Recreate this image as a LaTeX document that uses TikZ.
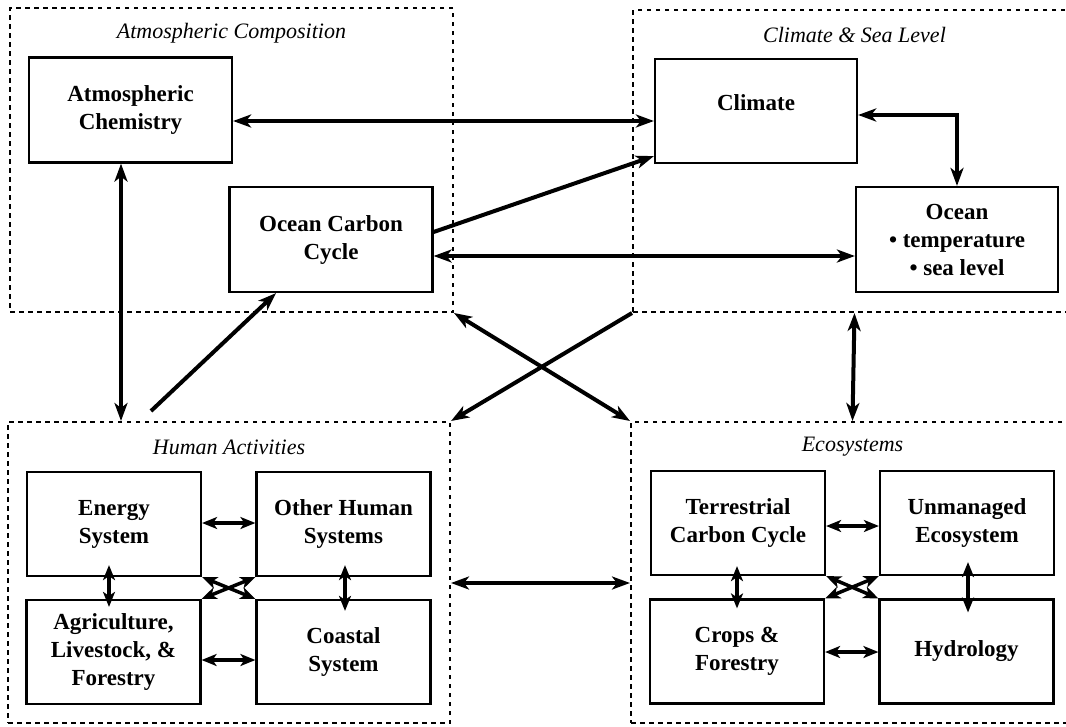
\documentclass[tikz,border=0pt]{standalone}
\usepackage{fontspec}
\setmainfont{Liberation Serif}
\usetikzlibrary{arrows.meta,calc}
\begin{document}
\begin{tikzpicture}[x=1pt,y=-1pt,
  region/.style={draw, line width=2pt, dash pattern=on 4.5pt off 4.5pt, inner sep=0pt},
  box/.style={draw, line width=2.2pt, align=center, inner sep=0pt, font=\fontsize{23}{28}\selectfont\bfseries},
  bigbox/.style={box, minimum width=203pt, minimum height=105pt},
  smallbox/.style={box, minimum width=174pt, minimum height=104pt},
  title/.style={font=\fontsize{22}{26}\selectfont\itshape, inner sep=0pt},
  big/.style={line width=4pt, {Stealth[length=18pt,width=13pt,inset=5pt]}-{Stealth[length=18pt,width=13pt,inset=5pt]}},
  one/.style={line width=4pt, -{Stealth[length=18pt,width=13pt,inset=5pt]}},
  small/.style={line width=3.5pt, {Stealth[length=15pt,width=12pt,inset=4pt]}-{Stealth[length=15pt,width=12pt,inset=4pt]}}
]
\clip (0,0) rectangle (1066,726);
\fill[white] (0,0) rectangle (1066,726);

% regions
\node[region, minimum width=443pt, minimum height=304pt] (atm) at (231.5,160) {};
\node[region, minimum width=443pt, minimum height=302pt] (climreg) at (854.5,161) {};
\node[region, minimum width=442pt, minimum height=301pt] (hum) at (229,572.5) {};
\node[region, minimum width=443pt, minimum height=301pt] (eco) at (852.5,572.5) {};

\node[title] (t1) at (231.5,33) {Atmospheric Composition};
\node[title] (t2) at (854.5,35) {Climate \& Sea Level};
\node[title] (t3) at (229,447) {Human Activities};
\node[title] (t4) at (852.5,447) {Ecosystems};

% top boxes
\node[bigbox] (chem) at (130.5,110) {Atmospheric\\Chemistry};
\node[bigbox] (occ) at (331,239.5) {Ocean Carbon\\Cycle};
\node[bigbox, minimum width=202pt, minimum height=104pt, text depth=17pt] (clim) at (756,111) {Climate};
\node[bigbox, minimum width=202pt] (ocean) at (957,239.5) {Ocean\\• temperature\\• sea level};

% human boxes
\node[smallbox] (energy) at (114,524) {Energy\\System};
\node[smallbox] (other) at (343.5,524) {Other Human\\Systems};
\node[smallbox] (agri) at (113.5,652) {Agriculture,\\Livestock, \&\\Forestry};
\node[smallbox] (coast) at (343.5,652) {Coastal\\System};

% eco boxes
\node[smallbox] (terr) at (738,523) {Terrestrial\\Carbon Cycle};
\node[smallbox] (unman) at (967,523) {Unmanaged\\Ecosystem};
\node[smallbox] (crops) at (737,651.5) {Crops \&\\Forestry};
\node[smallbox] (hydro) at (966.5,651.5) {Hydrology};

% top connectors
\draw[big] (chem.east |- 0,121) -- (clim.west |- 0,121);
\draw[one] ($(occ.north east)!0.43!(occ.south east)$) -- ($(clim.south west)+(0,-8)$);
\draw[big] (occ.east |- 0,256) -- (ocean.west |- 0,256);
\draw[big] (clim.east |- 0,115) -| (ocean.north);

% between regions
\draw[big] (chem.south -| 121,0) -- (hum.north -| 121,0);
\draw[one] ($(hum.north -| 151,0)+(0,-10)$) -- (occ.south -| 276,0);
\draw[big] (atm.south east) -- (eco.north west);
\draw[one] (climreg.south west) -- (hum.north east);
\draw[big] (climreg.south) -- (eco.north);
\draw[big] (hum.east |- 0,583) -- (eco.west |- 0,583);

% human inner connectors
\draw[small] (energy.east |- 0,523) -- (other.west |- 0,523);
\draw[small] (agri.east |- 0,660) -- (coast.west |- 0,660);
\draw[small] ($(energy.south -| 109,0)+(0,-12)$) -- ($(agri.north -| 109,0)+(0,8)$);
\draw[small] ($(other.south -| 345,0)+(0,-12)$) -- ($(coast.north -| 345,0)+(0,12)$);
\draw[small] (energy.south east) -- (coast.north west);
\draw[small] (other.south west) -- (agri.north east);

% eco inner connectors
\draw[small] (terr.east |- 0,526) -- (unman.west |- 0,526);
\draw[small] (crops.east |- 0,652) -- (hydro.west |- 0,652);
\draw[small] ($(terr.south -| 737,0)+(0,-10)$) -- ($(crops.north -| 737,0)+(0,10)$);
\draw[small] ($(unman.south -| 968,0)+(0,-14)$) -- ($(hydro.north -| 968,0)+(0,14)$);
\draw[small] (terr.south east) -- (hydro.north west);
\draw[small] (unman.south west) -- (crops.north east);
\end{tikzpicture}
\end{document}
